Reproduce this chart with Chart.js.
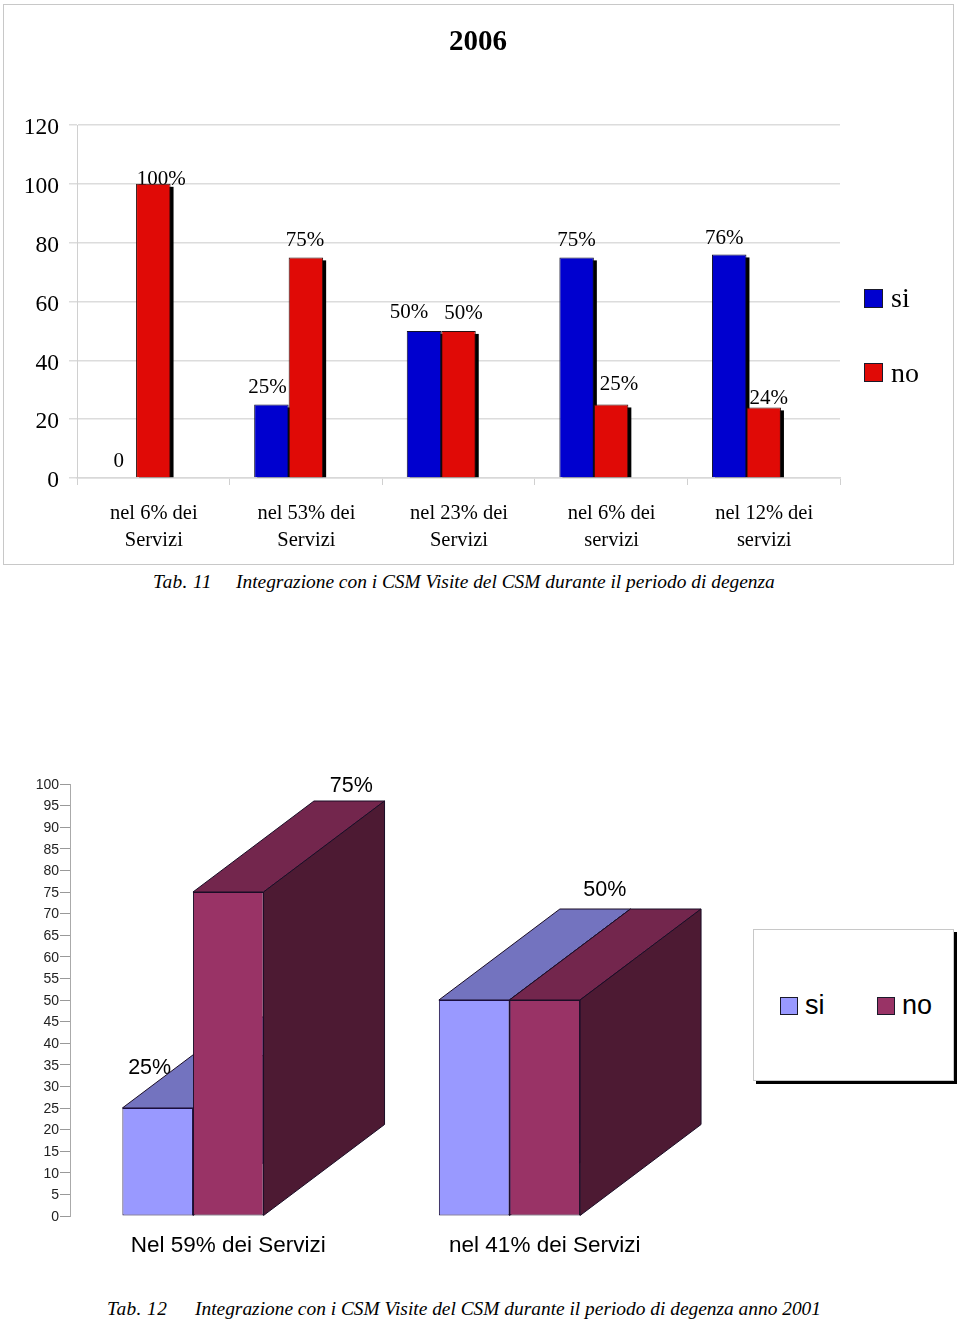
<!DOCTYPE html>
<html lang="it">
<head>
<meta charset="utf-8">
<title>2006</title>
<script src="https://cdn.jsdelivr.net/npm/chart.js@4/dist/chart.umd.min.js"></script>
<style>
  html, body { margin: 0; padding: 0; background: #fff; }
  body { position: relative; width: 960px; height: 1320px; overflow: hidden; color: #000; }
  canvas { position: absolute; display: block; }
  #box1 { position: absolute; left: 3px; top: 4px; width: 949px; height: 559px; border: 1.5px solid #c8c8c8; }
  #chart1 { left: 3px; top: 4px; }
  #chart2 { left: 0; top: 760px; }
  #title { position: absolute; left: 3px; width: 950px; top: 22px; margin: 0; text-align: center;
    font: bold 29px/36px "Liberation Serif", serif; }
  .caption { position: absolute; white-space: pre; font: italic 19.4px/24px "Liberation Serif", serif; }
  .tab { letter-spacing: 0.4px; }
  .swatch { position: absolute; box-sizing: border-box; }
  .legendText { position: absolute; line-height: 30px; }
  #legend1 .legendText { font: 28px/30px "Liberation Serif", serif; }
  #legend2 .legendText { font: 27px/30px "Liberation Sans", sans-serif; }
  #legendBox { position: absolute; left: 753px; top: 929px; width: 199px; height: 150px; background: #fff;
    border: 1px solid #c8c8c8; box-shadow: 3px 3px 0 #000; }
</style>
</head>
<body>
<div id="box1"></div>
<canvas id="chart1" width="950" height="560"></canvas>
<h1 id="title">2006</h1>
<div id="legend1"></div>
<div class="caption tab" style="left:153px;top:570px">Tab. 11</div>
<div class="caption" style="left:236px;top:570px">Integrazione con i CSM Visite del CSM durante il periodo di degenza</div>

<canvas id="chart2" width="720" height="530"></canvas>
<div id="legendBox"></div>
<div id="legend2"></div>
<div class="caption tab" style="left:107px;top:1297px">Tab. 12</div>
<div class="caption" style="left:195px;top:1297px">Integrazione con i CSM Visite del CSM durante il periodo di degenza anno 2001</div>

<script>
// Grafico 1 (2006)
const categories1 = [
  ["nel 6% dei", "Servizi"],
  ["nel 53% dei", "Servizi"],
  ["nel 23% dei", "Servizi"],
  ["nel 6% dei", "servizi"],
  ["nel 12% dei", "servizi"],
];
const si1 = [0, 25, 50, 75, 76];
const no1 = [100, 75, 50, 25, 24];
const siLabels1 = ["0", "25%", "50%", "75%", "76%"];
const noLabels1 = ["100%", "75%", "50%", "25%", "24%"];

// Grafico 2 (Tab. 12)
const categories2 = ["Nel 59% dei Servizi", "nel 41% dei Servizi"];
const si2 = [25, 50];
const no2 = [75, 50];
const siLabels2 = ["25%", null];
const noLabels2 = ["75%", "50%"];

// spostamento a mano delle etichette [dx, distanza sopra la barra], come nell'originale
const siNudge1 = [[0, 17], [-4, 17], [-15, 18], [0, 17], [-5, 16]];
const noNudge1 = [[8, 4], [-1, 17], [5, 17], [8, 20], [5, 9]];
const siNudge2 = [[-8, 40], [0, 0]];
const noNudge2 = [[123, 106], [60, 110]];

const DEPTH_X = 121;
const DEPTH_Y = 91;

Chart.defaults.animation = false;
Chart.defaults.responsive = false;
Chart.defaults.plugins.legend.display = false;
Chart.defaults.plugins.tooltip.enabled = false;

function drawLabels(chart, font, sets) {
  const { ctx } = chart;
  ctx.save();
  ctx.font = font;
  ctx.fillStyle = "#000";
  ctx.textAlign = "center";
  ctx.textBaseline = "middle";
  sets.forEach(({ index, labels, nudge }) => {
    chart.getDatasetMeta(index).data.forEach((bar, i) => {
      if (!labels[i]) return;
      ctx.fillText(labels[i], bar.x + nudge[i][0], bar.y - nudge[i][1]);
    });
  });
  ctx.restore();
}

// ombra nera delle barre + etichette (stanno sotto le barre)
const shadowPlugin = {
  id: "shadow",
  beforeDatasetsDraw(chart) {
    const { ctx } = chart;
    drawLabels(chart, '21px "Liberation Serif", serif', [
      { index: 0, labels: siLabels1, nudge: siNudge1 },
      { index: 1, labels: noLabels1, nudge: noNudge1 },
    ]);
    ctx.save();
    ctx.fillStyle = "#000";
    [0, 1].forEach((index) => {
      chart.getDatasetMeta(index).data.forEach((bar) => {
        const { x, y, base, width } = bar.getProps(["x", "y", "base", "width"]);
        if (base - y < 1) return;
        ctx.fillRect(x - width / 2 + 3, y + 3, width, base - y - 3);
      });
    });
    ctx.restore();
  },
};

function face(ctx, points, fill) {
  ctx.beginPath();
  points.forEach(([x, y], i) => (i ? ctx.lineTo(x, y) : ctx.moveTo(x, y)));
  ctx.closePath();
  ctx.fillStyle = fill;
  ctx.fill();
  ctx.strokeStyle = "#1a0d26";
  ctx.lineWidth = 1;
  ctx.stroke();
}

// facce superiori e laterali delle barre 3D
const depthPlugin = {
  id: "depth",
  beforeDatasetsDraw(chart) {
    const { ctx } = chart;
    drawLabels(chart, '21.5px "Liberation Sans", sans-serif', [
      { index: 0, labels: siLabels2, nudge: siNudge2 },
      { index: 1, labels: noLabels2, nudge: noNudge2 },
    ]);
    const tones = [
      { top: "#7373bf", side: "#4d4d80" },
      { top: "#73264d", side: "#4d1a33" },
    ];
    ctx.save();
    [0, 1].forEach((index) => {
      chart.getDatasetMeta(index).data.forEach((bar) => {
        const { x, y, base, width } = bar.getProps(["x", "y", "base", "width"]);
        const l = x - width / 2;
        const r = x + width / 2;
        face(ctx, [[l, y], [r, y], [r + DEPTH_X, y - DEPTH_Y], [l + DEPTH_X, y - DEPTH_Y]], tones[index].top);
        face(ctx, [[r, y], [r + DEPTH_X, y - DEPTH_Y], [r + DEPTH_X, base - DEPTH_Y], [r, base]], tones[index].side);
      });
    });
    ctx.restore();
  },
};

const chart1 = new Chart(document.getElementById("chart1"), {
  type: "bar",
  data: {
    labels: categories1,
    datasets: [
      { label: "si", data: si1, backgroundColor: "#0000cf", borderColor: "#10102a", borderWidth: 1 },
      { label: "no", data: no1, backgroundColor: "#e00a06", borderColor: "#2a1010", borderWidth: 1 },
      { label: "", data: [] }, // serie vuota: sposta le barre a sinistra come nell'originale
    ],
  },
  options: {
    layout: { padding: { top: 121, right: 113, left: 0, bottom: 0 } },
    datasets: { bar: { categoryPercentage: 0.678, barPercentage: 1 } },
    scales: {
      x: {
        afterFit: (s) => { s.height = 86; },
        grid: { drawOnChartArea: false, color: "#d0d0d0", tickLength: 7 },
        border: { color: "#d8d8d8", width: 1.5 },
        ticks: {
          color: "#000", padding: 15, maxRotation: 0, autoSkip: false, labelOffset: 0.5,
          font: { family: '"Liberation Serif", serif', size: 20.5, lineHeight: 1.32 },
        },
      },
      y: {
        min: 0, max: 120,
        afterFit: (s) => { s.width = 74; },
        grid: { color: "#dcdcdc", lineWidth: 1.5, tickLength: 8 },
        border: { color: "#d0d0d0" },
        ticks: {
          stepSize: 20, color: "#000", padding: 10, labelOffset: 3,
          font: { family: '"Liberation Serif", serif', size: 23.5 },
        },
      },
    },
  },
  plugins: [shadowPlugin],
});

const chart2 = new Chart(document.getElementById("chart2"), {
  type: "bar",
  data: {
    labels: categories2,
    datasets: [
      { label: "si", data: si2, backgroundColor: "#9999ff", borderColor: "#1a0d40", borderWidth: 1, borderSkipped: false, clip: false },
      { label: "no", data: no2, backgroundColor: "#993366", borderColor: "#1a0d26", borderWidth: 1, borderSkipped: false, clip: false },
      { label: "", data: [] },
    ],
  },
  options: {
    layout: { padding: { top: 24, right: 17, left: 0, bottom: 0 } },
    datasets: { bar: { categoryPercentage: 0.669, barPercentage: 1 } },
    scales: {
      x: {
        afterFit: (s) => { s.height = 74; },
        grid: { display: false },
        border: { display: false },
        ticks: {
          color: "#000", padding: 8, maxRotation: 0, autoSkip: false,
          font: { family: '"Liberation Sans", sans-serif', size: 22.5 },
        },
      },
      y: {
        min: 0, max: 100,
        afterFit: (s) => { s.width = 70; },
        grid: { drawOnChartArea: false, color: "#999", tickLength: 10 },
        border: { color: "#aaa" },
        ticks: {
          stepSize: 5, color: "#222", padding: 1, labelOffset: 1,
          font: { family: '"Liberation Sans", sans-serif', size: 14 },
        },
      },
    },
  },
  plugins: [depthPlugin],
});

// legende in HTML, colori presi dai dataset
function legendItem(host, chart, index, swatch, textLeft, textTop) {
  const ds = chart.data.datasets[index];
  const box = document.createElement("div");
  box.className = "swatch";
  box.style.cssText = `left:${swatch[0]}px;top:${swatch[1]}px;width:${swatch[2]}px;height:${swatch[2]}px;background:${ds.backgroundColor};border:1px solid #1a1a2a`;
  const text = document.createElement("div");
  text.className = "legendText";
  text.style.left = textLeft + "px";
  text.style.top = textTop + "px";
  text.textContent = ds.label;
  host.append(box, text);
}
const legend1 = document.getElementById("legend1");
legendItem(legend1, chart1, 0, [864, 289, 19], 891, 283);
legendItem(legend1, chart1, 1, [864, 363, 19], 891, 358);
const legend2 = document.getElementById("legend2");
legendItem(legend2, chart2, 0, [780, 997, 18], 805, 990);
legendItem(legend2, chart2, 1, [877, 997, 18], 902, 990);
</script>
</body>
</html>
